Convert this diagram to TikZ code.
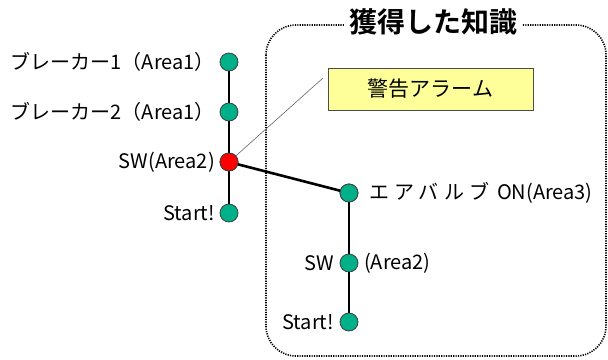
\documentclass[tikz,border=0pt]{standalone}
\usepackage{fontspec}
\setmainfont{Noto Sans CJK JP}
\newfontfamily\jpb{Noto Sans CJK JP}[BoldFont={* Bold}]
\newfontfamily\jpwide{Noto Sans CJK JP}[LetterSpace=26]
\definecolor{teal1}{RGB}{0,176,136}
\definecolor{yel}{RGB}{255,255,153}
\tikzset{
  x=1pt,y=-1pt,
  dot/.style={circle,draw=black!75,line width=0.8pt,fill=teal1,minimum size=18pt,inner sep=0pt},
  reddot/.style={dot,fill=red},
  link/.style={line width=2.6pt,black},
  lbl/.style={font=\fontsize{20}{22}\selectfont,inner sep=0pt},
}
\begin{document}
\begin{tikzpicture}
\useasboundingbox (0,0) rectangle (608,359);
% knowledge box
\draw[line width=1.6pt,dash pattern=on 1.2pt off 1.2pt,rounded corners=30pt] (266,25) rectangle (606,356);
\node[fill=white,inner xsep=5pt,inner ysep=2pt,font=\jpb\bfseries\fontsize{28}{30}\selectfont] (title) at (433,22) {獲得した知識};
% left chain
\node[dot] (b1) at (229,62) {};
\node[dot] (b2) at (229,112) {};
\node[reddot] (sw) at (229,162) {};
\node[dot] (st) at (229,213) {};
% right chain
\node[dot] (av) at (349,193) {};
\node[dot] (sw2) at (349,263) {};
\node[dot] (st2) at (349,322) {};
\draw[link] (b1) -- (b2);
\draw[link] (b2) -- (sw);
\draw[link] (sw) -- (st);
\draw[link] (sw.center) -- (av.center);
\draw[link] (av) -- (sw2);
\draw[link] (sw2) -- (st2);
\node[reddot] at (sw) {};
\node[dot] at (av) {};
% labels
\node[lbl,anchor=east] (l1) at (215,62) {ブレーカー1（Area1）};
\node[lbl,anchor=east] (l2) at (215,112) {ブレーカー2（Area1）};
\node[lbl,anchor=east] (l3) at (215,162) {SW(Area2)};
\node[lbl,anchor=east] (l4) at (215,213) {Start!};
\node[lbl,anchor=west] (r1) at (369,193) {{\jpwide エアバルブ}\, ON(Area3)};
\node[lbl,anchor=east] (r2) at (334,263) {SW};
\node[lbl,anchor=west] (r2b) at (364,263) {(Area2)};
\node[lbl,anchor=east] (r3) at (334,322) {Start!};
% alarm callout
\node[draw=black!70,line width=0.6pt,fill=yel,minimum width=205pt,minimum height=42pt,inner sep=0pt,font=\fontsize{21}{23}\selectfont] (alarm) at (430.5,89) {警告アラーム};
\coordinate (ct) at (323,78);
\draw[black!60,line width=0.6pt] (sw) -- (ct);
\end{tikzpicture}
\end{document}
